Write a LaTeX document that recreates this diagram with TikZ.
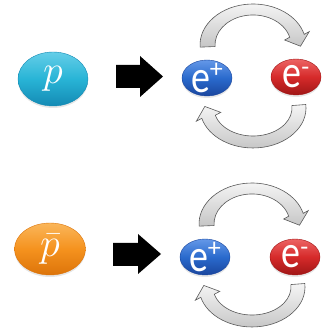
\RequirePackage{fix-cm}
\documentclass[tikz,border=0pt]{standalone}
\usepackage{fontspec}
\usepackage{graphicx}
\newfontfamily\carlitofont{Carlito}
\usetikzlibrary{shapes.geometric,shadows}
\definecolor{pcyan}{RGB}{40,180,214}
\definecolor{pcyanD}{RGB}{20,138,180}
\definecolor{pcyanL}{RGB}{100,206,232}
\definecolor{porange}{RGB}{245,146,30}
\definecolor{porangeD}{RGB}{220,116,10}
\definecolor{porangeL}{RGB}{250,182,90}
\definecolor{eblue}{RGB}{42,106,205}
\definecolor{eblueD}{RGB}{26,70,158}
\definecolor{eblueL}{RGB}{100,152,232}
\definecolor{ered}{RGB}{214,42,42}
\definecolor{eredD}{RGB}{160,22,22}
\definecolor{eredL}{RGB}{236,100,100}
\newcommand\epos{\scalebox{1}[1.2]{e}\raisebox{15pt}{\fontsize{26}{26}\selectfont +}}
\newcommand\eneg{\scalebox{1}[1.2]{e}\raisebox{12pt}{\fontsize{26}{26}\selectfont -}}
\tikzset{
  ball/.style={ellipse, inner sep=0pt, text=white, draw=#1D, line width=0.4pt,
    top color=#1L, bottom color=#1D, middle color=#1,
    drop shadow={opacity=0.2, shadow xshift=0pt, shadow yshift=-2pt}},
  bigp/.style={ball=pcyan, minimum width=70pt, minimum height=54pt, font=\fontsize{40}{40}\selectfont},
  bigpbar/.style={ball=porange, minimum width=71pt, minimum height=52pt, font=\fontsize{40}{40}\selectfont},
  lepton/.style={minimum width=50pt, minimum height=36pt},
  leptext/.style={text=white, inner sep=0pt, font=\carlitofont\fontsize{38}{38}\selectfont},
  blockarrow/.style={fill=black},
  loop/.style={draw=gray!70!black, line width=0.6pt, top color=gray!8, bottom color=gray!45, line join=miter}
}
\begin{document}
\begin{tikzpicture}[x=1pt,y=1pt]
\useasboundingbox (0,0) rectangle (329,332);
% ---------- row 1 ----------
\node[bigp] (p) at (53,253) {$p$};
\node[ball=eblue, lepton] (ep1) at (207,254) {};
\node[leptext] (ep1t) at (ep1) {\epos};
\node[ball=ered, lepton] (em1) at (296,255) {};
\node[leptext] (em1t) at (em1) {\eneg};
\fill[blockarrow] (116,244) -- (140,244) -- (140,235) -- (163,255.5) -- (140,276) -- (140,267) -- (116,267) -- cycle;
\begin{scope}
\shade[loop] (200.07,284.85) arc[start angle=183, end angle=15, x radius=53, y radius=41]
  -- (309.25,300.4) -- (300.5,285.8) -- (284.65,291.97) -- (289.7,294.8)
  arc[start angle=15, end angle=183, x radius=38, y radius=30] -- cycle;
\shade[loop] (305.8,227.5) arc[start angle=5, end angle=-165, x radius=53, y radius=40]
  -- (196.35,210.77) -- (204.82,225.54) -- (220.79,219.63) -- (215.33,216.75)
  arc[start angle=-165, end angle=5, x radius=39, y radius=28] -- cycle;
\end{scope}
% ---------- row 2 ----------
\node[bigpbar] (pb) at (50,83) {$\bar{p}$};
\node[ball=eblue, lepton] (ep2) at (205,75) {};
\node[leptext] (ep2t) at (ep2) {\epos};
\node[ball=ered, lepton] (em2) at (295,75) {};
\node[leptext] (em2t) at (em2) {\eneg};
\fill[blockarrow] (113,66) -- (138,66) -- (138,58) -- (161,78) -- (138,98) -- (138,89) -- (113,89) -- cycle;
\begin{scope}[shift={(-1,-179)}]
\shade[loop] (200.07,284.85) arc[start angle=183, end angle=15, x radius=53, y radius=41]
  -- (309.25,300.4) -- (300.5,285.8) -- (284.65,291.97) -- (289.7,294.8)
  arc[start angle=15, end angle=183, x radius=38, y radius=30] -- cycle;
\shade[loop] (305.8,227.5) arc[start angle=5, end angle=-165, x radius=53, y radius=40]
  -- (196.35,210.77) -- (204.82,225.54) -- (220.79,219.63) -- (215.33,216.75)
  arc[start angle=-165, end angle=5, x radius=39, y radius=28] -- cycle;
\end{scope}
\end{tikzpicture}
\end{document}
